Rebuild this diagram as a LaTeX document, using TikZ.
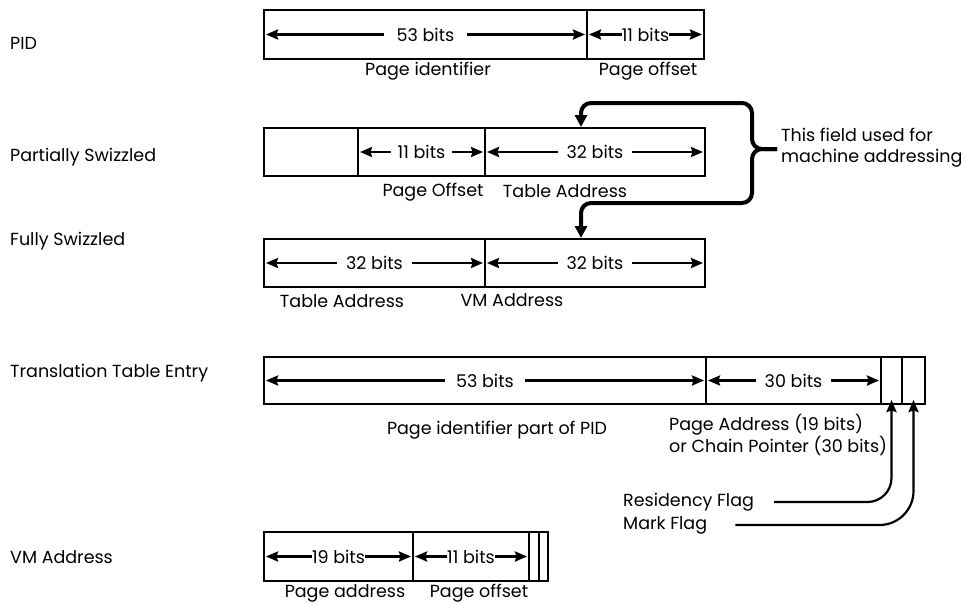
\documentclass[tikz,border=0pt]{standalone}
\usepackage{fontspec}
\setmainfont{Poppins}
\usetikzlibrary{arrows.meta,calc}
\tikzset{
  field/.style={draw, line width=1.1pt, inner sep=0pt, outer sep=0pt, anchor=north west},
  tip/.tip={Stealth[length=12pt,width=10pt,inset=1.5pt]},
  dim/.style={line width=2.3pt, tip-tip},
  lab/.style={fill=white, inner ysep=1pt, font=\fontsize{17.5}{21}\selectfont},
  txt/.style={font=\fontsize{17.5}{21}\selectfont, inner sep=0pt},
  rowlab/.style={txt, anchor=west},
  fat/.style={line width=4pt, rounded corners=10pt, -{Triangle[length=12pt,width=12pt]}},
  flag/.style={line width=2.2pt, -tip},
}
\newcommand{\fieldbox}[5]{\node[field, minimum width=#4pt, minimum height=#5pt] (#1) at (#2,#3) {};}
\begin{document}
\begin{tikzpicture}[x=1pt,y=-1pt]
\useasboundingbox (0,0) rectangle (967,605);
% row labels
\node[rowlab] (lpid) at (10,43) {PID};
\node[rowlab] (lps) at (10,157) {Partially Swizzled};
\node[rowlab] (lfs) at (10,241) {Fully Swizzled};
\node[rowlab] (ltte) at (10,373) {Translation Table Entry};
\node[rowlab] (lvm) at (10,557) {VM Address};
% PID
\fieldbox{pa}{264}{10}{323}{49}
\fieldbox{pb}{587}{10}{117}{49}
\draw[dim] ([xshift=2pt]pa.west) -- ([xshift=-2pt]pa.east) node[midway, lab, inner xsep=13pt] (t1) {53 bits};
\draw[dim] ([xshift=2pt]pb.west) -- ([xshift=-2pt]pb.east) node[midway, lab, inner xsep=0pt] (t2) {11 bits};
\node[txt] (n1) at (428,71) {Page identifier};
\node[txt] (n2) at (648,71) {Page offset};
% Partially swizzled
\fieldbox{sa}{264}{128}{94}{48}
\fieldbox{sb}{358}{128}{127}{48}
\fieldbox{sc}{485}{128}{220}{48}
\draw[dim] ([xshift=2pt]sb.west) -- ([xshift=-2pt]sb.east) node[midway, lab, inner xsep=7pt] (t3) {11 bits};
\draw[dim] ([xshift=2pt]sc.west) -- ([xshift=-2pt]sc.east) node[midway, lab, inner xsep=9pt] (t4) {32 bits};
\node[txt] (n3) at (433,192) {Page Offset};
\node[txt] (n4) at (565,191) {Table Address};
% Fully swizzled
\fieldbox{fa}{264}{239}{221}{48}
\fieldbox{fb}{485}{239}{220}{48}
\draw[dim] ([xshift=2pt]fa.west) -- ([xshift=-2pt]fa.east) node[midway, lab, inner xsep=9pt] (t5) {32 bits};
\draw[dim] ([xshift=2pt]fb.west) -- ([xshift=-2pt]fb.east) node[midway, lab, inner xsep=9pt] (t6) {32 bits};
\node[txt] (n5) at (342,301) {Table Address};
\node[txt] (n6) at (512,300) {VM Address};
% brace connector
\coordinate (bp) at (777,149);
\draw[fat] (bp) -- (752,149) -- (752,103) -- (581,103) -- ([xshift=96pt,yshift=1pt]sc.north west);
\draw[fat] (bp) -- (752,149) -- (752,203) -- (581,203) -- ([xshift=96pt,yshift=1pt]fb.north west);
\node[txt, anchor=west, align=left] (n7) at (781,148) {This field used for\\machine addressing};
% Translation table entry
\fieldbox{ta}{264}{357}{442}{47}
\fieldbox{tb}{706}{357}{175}{47}
\fieldbox{tc}{881}{357}{21}{47}
\fieldbox{td}{902}{357}{23}{47}
\draw[dim] ([xshift=2pt]ta.west) -- ([xshift=-2pt]ta.east) node[midway, lab, inner xsep=11pt] (t7) {53 bits};
\draw[dim] ([xshift=2pt]tb.west) -- ([xshift=-2pt]tb.east) node[midway, lab, inner xsep=9pt] (t8) {30 bits};
\node[txt] (n8) at (497,430) {Page identifier part of PID};
\node[txt, anchor=west, align=left] (n9) at (669,435) {Page Address (19 bits)\\or Chain Pointer (30 bits)};
\node[txt, anchor=west] (n10) at (623,502) {Residency Flag};
\node[txt, anchor=west] (n11) at (623,525) {Mark Flag};
\draw[flag, rounded corners=24pt] ([xshift=20pt]n10.east) -- (tc.center |- n10.east) -- ([yshift=4pt]tc.south);
\draw[flag, rounded corners=34pt] ([xshift=28pt]n11.east) -- (td.center |- n11.east) -- ([yshift=4pt]td.south);
% VM address
\fieldbox{va}{264}{532}{149}{49}
\fieldbox{vb}{413}{532}{116}{49}
\fieldbox{vc}{529}{532}{10}{49}
\fieldbox{vd}{539}{532}{9}{49}
\draw[dim] ([xshift=2pt]va.west) -- ([xshift=-2pt]va.east) node[midway, lab, inner xsep=0pt] (t9) {19 bits};
\draw[dim] ([xshift=2pt]vb.west) -- ([xshift=-2pt]vb.east) node[midway, lab, inner xsep=0pt] (t10) {11 bits};
\node[txt] (n12) at (345,593) {Page address};
\node[txt] (n13) at (479,593) {Page offset};
\end{tikzpicture}
\end{document}
